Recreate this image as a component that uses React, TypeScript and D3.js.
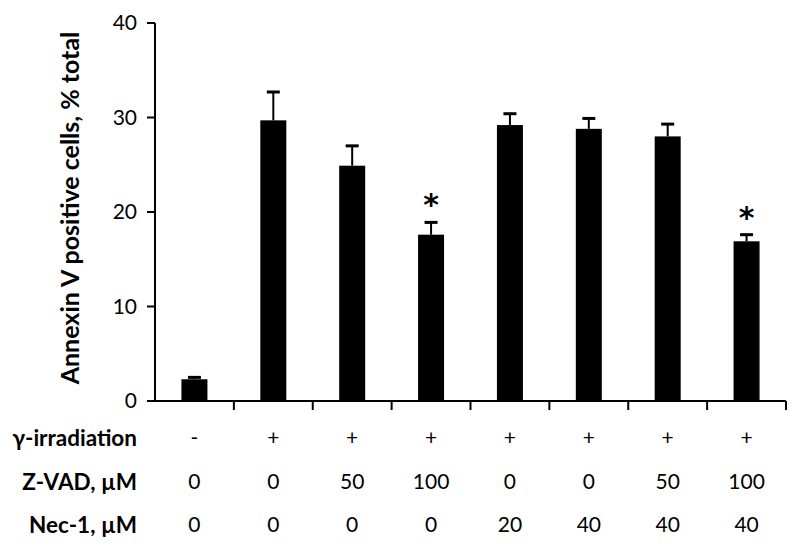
import React from "react";
import * as d3 from "d3";

const categories = ["c1", "c2", "c3", "c4", "c5", "c6", "c7", "c8"];
const means = [2.3, 29.7, 24.9, 17.6, 29.2, 28.8, 28.0, 16.9];
const errors = [0.2, 3.0, 2.1, 1.3, 1.2, 1.1, 1.3, 0.7];
const significant = [false, false, false, true, false, false, false, true];
const yTicks = [0, 10, 20, 30, 40];
const rowLabels = ["γ-irradiation", "Z-VAD, µM", "Nec-1, µM"];
const irradiation = ["-", "+", "+", "+", "+", "+", "+", "+"];
const zvad = ["0", "0", "50", "100", "0", "0", "50", "100"];
const nec1 = ["0", "0", "0", "0", "20", "40", "40", "40"];
const yTitle = "Annexin V positive cells, % total";

const W = 800;
const H = 548;
const FONT = "Lato, 'Open Sans', sans-serif";

export default function App() {
  const x0 = 155;
  const x1 = 786;
  const y = d3.scaleLinear().domain([0, 40]).range([401, 23]);
  const x = d3.scaleBand<string>().domain(categories).range([x0, x1]).paddingInner(0).paddingOuter(0);
  const bw = 26;
  const rows = [irradiation, zvad, nec1];
  const rowY = [438, 482, 525];

  return (
    <svg
      width={W}
      height={H}
      style={{ position: "absolute", left: 0, top: 0, background: "#fff" }}
      fontFamily={FONT}
    >
      <rect width={W} height={H} fill="#fff" />
      {categories.map((c, i) => {
        const cx = (x(c) as number) + x.bandwidth() / 2;
        const top = y(means[i]);
        const capY = y(means[i] + errors[i]);
        return (
          <g key={c}>
            <line x1={cx} x2={cx} y1={top} y2={capY} stroke="#000" strokeWidth={2} />
            <line x1={cx - 6.5} x2={cx + 6.5} y1={capY} y2={capY} stroke="#000" strokeWidth={3} />
            <rect x={cx - bw / 2} y={top} width={bw} height={y(0) - top} fill="#000" />
            {significant[i] && (
              <text
                x={cx}
                y={capY - 7}
                textAnchor="middle"
                fontSize={30}
                fontWeight="bold"
                fontFamily="'DejaVu Sans', sans-serif"
              >
                *
              </text>
            )}
          </g>
        );
      })}
      <line x1={x0} x2={x0} y1={y(40)} y2={y(0) + 1} stroke="#000" strokeWidth={2} />
      {yTicks.map((t) => (
        <g key={t}>
          <line x1={x0 - 8} x2={x0} y1={y(t)} y2={y(t)} stroke="#000" strokeWidth={2} />
          <text x={x0 - 18} y={y(t)} dy="0.35em" textAnchor="end" fontSize={21}>
            {t}
          </text>
        </g>
      ))}
      <line x1={x0} x2={x1} y1={y(0)} y2={y(0)} stroke="#000" strokeWidth={2} />
      {categories.map((c, i) => {
        const bx = (x(c) as number) + x.bandwidth();
        return <line key={"t" + i} x1={bx} x2={bx} y1={y(0)} y2={y(0) + 9} stroke="#000" strokeWidth={2} />;
      })}
      <text
        transform={`translate(79,${(y(0) + y(40)) / 2 - 4}) rotate(-90)`}
        textAnchor="middle"
        fontSize={25}
        fontWeight="bold"
      >
        {yTitle}
      </text>
      {rows.map((row, r) => (
        <g key={"r" + r}>
          <text x={137} y={rowY[r]} dy="0.35em" textAnchor="end" fontSize={22.5} fontWeight="bold">
            {rowLabels[r]}
          </text>
          {row.map((v, i) => (
            <text
              key={i}
              x={(x(categories[i]) as number) + x.bandwidth() / 2}
              y={rowY[r]}
              dy="0.35em"
              textAnchor="middle"
              fontSize={21}
            >
              {v}
            </text>
          ))}
        </g>
      ))}
    </svg>
  );
}
